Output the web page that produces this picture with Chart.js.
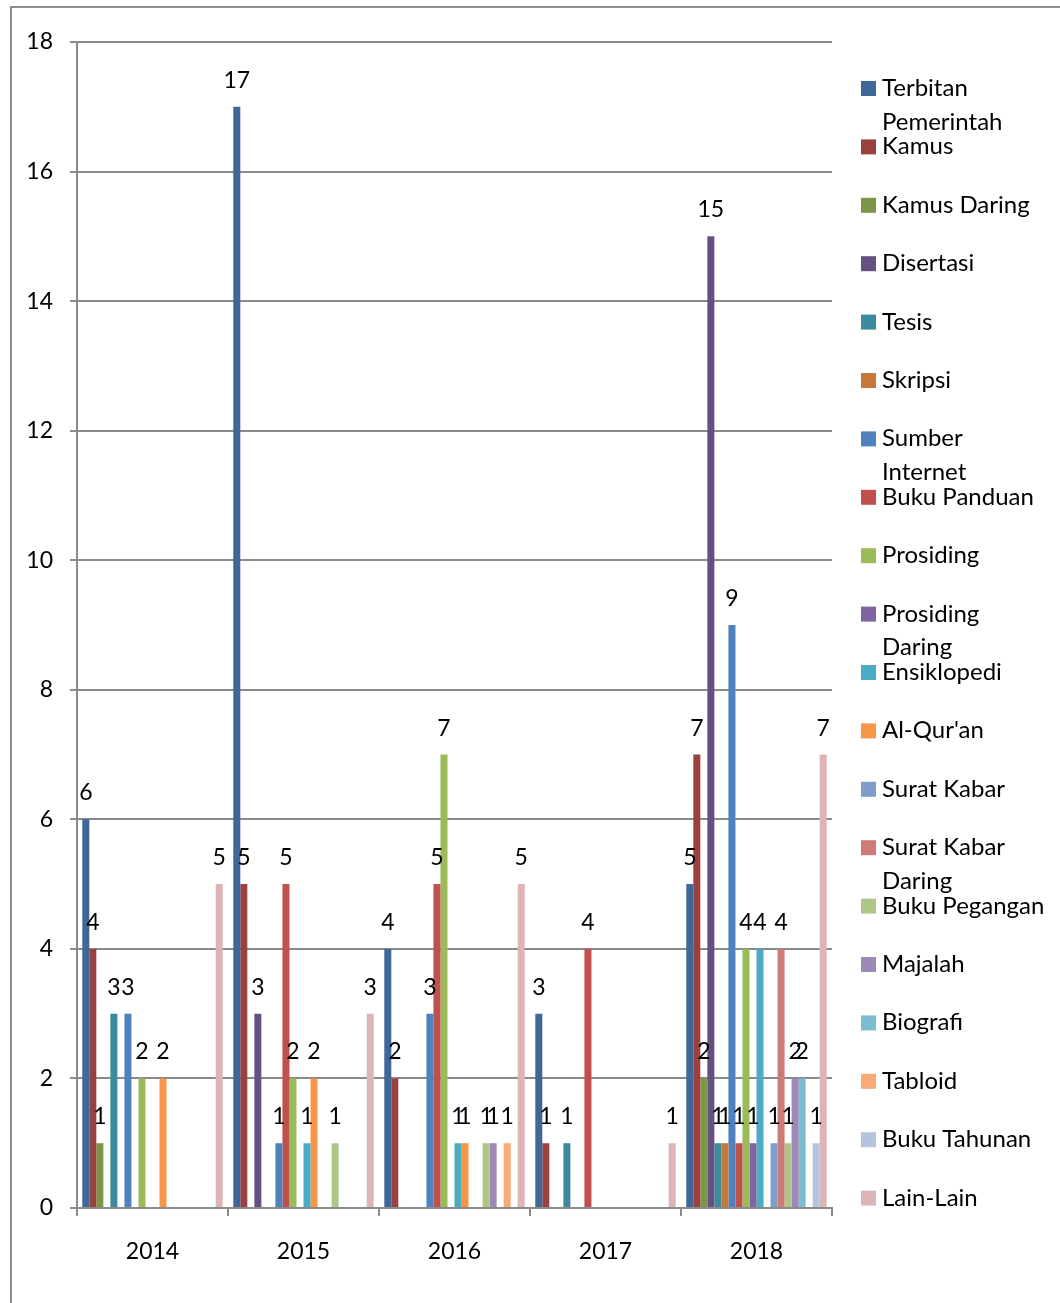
<!DOCTYPE html>
<html>
<head>
<meta charset="utf-8">
<script src="https://cdn.jsdelivr.net/npm/chart.js@4"></script>
<style>
  html, body { margin: 0; padding: 0; background: #fff; overflow: hidden; }
  #wrap { position: relative; width: 1060px; height: 1303px; }
  #frame { position: absolute; left: 10px; top: 6px; width: 1100px; height: 1400px;
           border: 2px solid #8e8e8e; pointer-events: none; }
</style>
</head>
<body>
<div id="wrap">
  <canvas id="refChart"></canvas>
  <div id="frame"></div>
</div>
<script>
const years = ['2014', '2015', '2016', '2017', '2018'];

const seriesNames = [
    'Terbitan Pemerintah', 'Kamus', 'Kamus Daring', 'Disertasi', 'Tesis',
    'Skripsi', 'Sumber Internet', 'Buku Panduan', 'Prosiding', 'Prosiding Daring',
    'Ensiklopedi', "Al-Qur'an", 'Surat Kabar', 'Surat Kabar Daring', 'Buku Pegangan',
    'Majalah', 'Biografi', 'Tabloid', 'Buku Tahunan', 'Lain-Lain'
];

// one row per series, one value per year (null = no entry)
const seriesValues = [
    [6, 17, 4, 3, 5],          // Terbitan Pemerintah
    [4, 5, 2, 1, 7],           // Kamus
    [1, null, null, null, 2],  // Kamus Daring
    [null, 3, null, null, 15], // Disertasi
    [3, null, null, 1, 1],     // Tesis
    [null, null, null, null, 1], // Skripsi
    [3, 1, 3, null, 9],        // Sumber Internet
    [null, 5, 5, 4, 1],        // Buku Panduan
    [2, 2, 7, null, 4],        // Prosiding
    [null, null, null, null, 1], // Prosiding Daring
    [null, 1, 1, null, 4],     // Ensiklopedi
    [2, 2, 1, null, null],     // Al-Qur'an
    [null, null, null, null, 1], // Surat Kabar
    [null, null, null, null, 4], // Surat Kabar Daring
    [null, 1, 1, null, 1],     // Buku Pegangan
    [null, null, 1, null, 2],  // Majalah
    [null, null, null, null, 2], // Biografi
    [null, null, 1, null, null], // Tabloid
    [null, null, null, null, 1], // Buku Tahunan
    [5, 3, 5, 1, 7]            // Lain-Lain
];

const seriesColors = [
    '#3f6797', '#9a403e', '#7c9647', '#665082', '#3c8a9e', '#c67838',
    '#4f81bd', '#c0504d', '#9bbb59', '#8064a2', '#4bacc6', '#f79646',
    '#7f9dca', '#cd7b79', '#afc786', '#9d88b7', '#7cbcd0', '#f8aa77',
    '#b5c4de', '#deb5b6'
];

const yTicks = [0, 2, 4, 6, 8, 10, 12, 14, 16, 18];

const FONT = 'Lato, "Open Sans", sans-serif';
const GRID = '#8a8a8a';

// value labels above each bar
const valueLabels = {
    id: 'valueLabels',
    afterDatasetsDraw(chart) {
        const ctx = chart.ctx;
        ctx.save();
        ctx.font = '23px ' + FONT;
        ctx.fillStyle = '#000';
        ctx.textAlign = 'center';
        ctx.textBaseline = 'alphabetic';
        chart.data.datasets.forEach((ds, i) => {
            chart.getDatasetMeta(i).data.forEach((bar, j) => {
                const v = ds.data[j];
                if (v == null) return;
                ctx.fillText(String(v), bar.x, bar.y - 19);
            });
        });
        ctx.restore();
    }
};

// Excel-like legend on the right, long names wrap onto a second line
const sideLegend = {
    id: 'sideLegend',
    afterDraw(chart) {
        const ctx = chart.ctx;
        const x = chart.chartArea.right + 29;
        const top = 88, step = 58.4, maxW = 166;
        ctx.save();
        ctx.font = '24px ' + FONT;
        ctx.textBaseline = 'alphabetic';
        ctx.textAlign = 'left';
        chart.data.datasets.forEach((ds, i) => {
            const y = top + i * step;
            ctx.fillStyle = ds.backgroundColor;
            ctx.fillRect(x, y - 7, 15, 15);
            ctx.fillStyle = '#000';
            let lines = [ds.label];
            if (ctx.measureText(ds.label).width > maxW) {
                const cut = ds.label.lastIndexOf(' ');
                lines = [ds.label.slice(0, cut), ds.label.slice(cut + 1)];
            }
            lines.forEach((ln, k) => ctx.fillText(ln, x + 21, y + 8 + k * 33.5));
        });
        ctx.restore();
    }
};

const datasets = seriesNames.map((name, i) => ({
    label: name,
    data: seriesValues[i],
    backgroundColor: seriesColors[i],
    borderWidth: 0
}));

new Chart(document.getElementById('refChart'), {
    type: 'bar',
    data: { labels: years, datasets: datasets },
    options: {
        responsive: true,
        maintainAspectRatio: false,
        animation: false,
        categoryPercentage: 0.93,
        barPercentage: 1.0,
        layout: { padding: { top: 42, right: 228, left: 0, bottom: 0 } },
        plugins: {
            legend: { display: false },
            tooltip: { enabled: false }
        },
        scales: {
            x: {
                grid: { drawOnChartArea: false, drawTicks: true, tickLength: 8, color: GRID, lineWidth: 2 },
                border: { display: true, color: GRID, width: 2 },
                ticks: { color: '#000', font: { family: FONT, size: 23 }, padding: 22 },
                afterFit(scale) { scale.height = 95; }
            },
            y: {
                min: 0,
                max: 18,
                afterBuildTicks(scale) { scale.ticks = yTicks.map(v => ({ value: v })); },
                grid: { color: GRID, lineWidth: 2, tickLength: 7 },
                border: { display: true, color: GRID, width: 2 },
                ticks: { color: '#000', font: { family: FONT, size: 23 }, padding: 17 },
                afterFit(scale) { scale.width = 77; }
            }
        }
    },
    plugins: [valueLabels, sideLegend]
});
</script>
</body>
</html>
